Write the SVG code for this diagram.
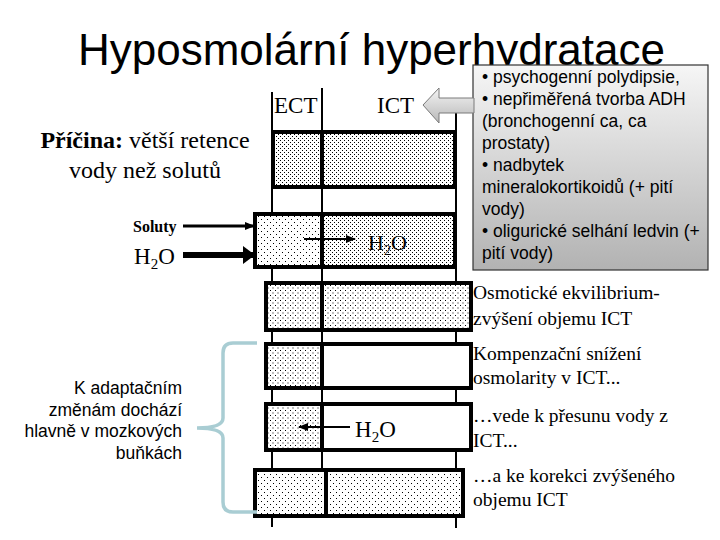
<svg xmlns="http://www.w3.org/2000/svg" width="720" height="540" viewBox="0 0 720 540">
<defs>
<style>
.sans{font-family:"Liberation Sans",Arial,sans-serif;fill:#000}
.serif{font-family:"Liberation Serif","Times New Roman",serif;fill:#000}
.box{stroke:#000;stroke-width:4}
.div{stroke:#000;stroke-width:4}
.vline{stroke:#000;stroke-width:2}
.thin{stroke:#000;stroke-width:2;fill:none}
</style>
<pattern id="pDense" width="4" height="4" patternUnits="userSpaceOnUse"><rect width="4" height="4" fill="#fff"/><rect x="0" y="0" width="1" height="1" fill="#000"/><rect x="2" y="2" width="1" height="1" fill="#000"/></pattern>
<pattern id="pMed" width="5" height="5" patternUnits="userSpaceOnUse"><rect width="5" height="5" fill="#fff"/><rect x="0" y="0" width="1" height="1" fill="#000"/><rect x="2.5" y="2.5" width="1" height="1" fill="#000"/></pattern>
<pattern id="pSparse" width="6" height="6" patternUnits="userSpaceOnUse"><rect width="6" height="6" fill="#fff"/><rect x="0" y="0" width="1" height="1" fill="#000"/><rect x="3" y="3" width="1" height="1" fill="#000"/></pattern>
<linearGradient id="gBox" x1="0" y1="0" x2="0" y2="1"><stop offset="0" stop-color="#f6f6f6"/><stop offset="1" stop-color="#b2b2b2"/></linearGradient>
<linearGradient id="gArrow" x1="0" y1="0" x2="0" y2="1"><stop offset="0" stop-color="#f4f4f4"/><stop offset="1" stop-color="#b8b8b8"/></linearGradient>
<marker id="mSmall" markerWidth="10" markerHeight="10" refX="9" refY="5" orient="auto" markerUnits="userSpaceOnUse"><path d="M0,1 L10,5 L0,9 Z" fill="#000"/></marker>
<marker id="mBig" markerWidth="12" markerHeight="18" refX="11" refY="9" orient="auto" markerUnits="userSpaceOnUse"><path d="M0,0 L12,9 L0,18 Z" fill="#000"/></marker>
</defs>
<rect width="720" height="540" fill="#fff"/>

<text class="sans" x="78" y="65" font-size="44">Hyposmolární hyperhydratace</text>

<g id="axes">
<line class="vline" x1="272" y1="92" x2="272" y2="527"/>
<line class="vline" x1="322" y1="88" x2="322" y2="470"/>
<line class="vline" x1="456" y1="113" x2="456" y2="528"/>
<text class="serif" x="274" y="113" font-size="23">ECT</text>
<text class="serif" x="377" y="113" font-size="23">ICT</text>
</g>

<g id="cause">
<text class="serif" x="145" y="148" font-size="24" text-anchor="middle"><tspan font-weight="bold">Příčina:</tspan> větší retence</text>
<text class="serif" x="145" y="178" font-size="24" text-anchor="middle">vody než solutů</text>
<text class="serif" x="133" y="232" font-size="16" font-weight="bold">Soluty</text>
<text class="serif" x="134" y="264" font-size="23">H<tspan font-size="15" dy="5">2</tspan><tspan dy="-5">O</tspan></text>
</g>

<g id="row1">
<rect class="box" x="273" y="132" width="182" height="55" fill="url(#pDense)"/>
<line class="div" x1="322" y1="132" x2="322" y2="187"/>
</g>

<g id="row2">
<rect class="box" x="255" y="214" width="200" height="53" fill="url(#pDense)"/>
<rect x="257" y="216" width="65" height="49" fill="url(#pSparse)"/>
<line class="div" x1="322" y1="214" x2="322" y2="267"/>
<text class="serif" x="368" y="250" font-size="22">H<tspan font-size="14" dy="5">2</tspan><tspan dy="-5">O</tspan></text>
</g>

<g id="row3">
<rect class="box" x="266" y="283" width="205" height="47" fill="url(#pMed)"/>
<line class="div" x1="322" y1="283" x2="322" y2="330"/>
</g>

<g id="row4">
<rect class="box" x="266" y="344" width="205" height="44" fill="#fff"/>
<rect x="268" y="346" width="54" height="40" fill="url(#pMed)"/>
<line class="div" x1="322" y1="344" x2="322" y2="388"/>
</g>

<g id="row5">
<rect class="box" x="266" y="404" width="205" height="46" fill="#fff"/>
<rect x="268" y="406" width="54" height="42" fill="url(#pMed)"/>
<line class="div" x1="322" y1="404" x2="322" y2="450"/>
<text class="serif" x="355" y="437" font-size="23">H<tspan font-size="15" dy="5">2</tspan><tspan dy="-5">O</tspan></text>
</g>

<g id="row6">
<rect class="box" x="255" y="470" width="208" height="46" fill="url(#pSparse)"/>
<line class="div" x1="326" y1="470" x2="326" y2="516"/>
</g>

<g id="causes-box">
<rect x="473" y="65" width="235" height="205" fill="url(#gBox)" stroke="#333" stroke-width="1.2"/>
<g class="sans" font-size="17.5">
<text x="482" y="83">• psychogenní polydipsie,</text>
<text x="482" y="105">• nepřiměřená tvorba ADH</text>
<text x="482" y="127">(bronchogenní ca, ca</text>
<text x="482" y="149">prostaty)</text>
<text x="482" y="171">• nadbytek</text>
<text x="482" y="193">mineralokortikoidů (+ pití</text>
<text x="482" y="215">vody)</text>
<text x="482" y="237">• oligurické selhání ledvin (+</text>
<text x="482" y="259">pití vody)</text>
</g>
</g>

<g id="right-notes" class="serif" font-size="19.5">
<text x="473" y="299">Osmotické ekvilibrium-</text>
<text x="473" y="325">zvýšení objemu ICT</text>
<text x="473" y="360">Kompenzační snížení</text>
<text x="473" y="384">osmolarity v ICT...</text>
<text x="473" y="422">…vede k přesunu vody z</text>
<text x="473" y="447">ICT...</text>
<text x="473" y="482">…a ke korekci zvýšeného</text>
<text x="473" y="506">objemu ICT</text>
</g>

<g id="brain-note" class="sans" font-size="17.5" text-anchor="end">
<text x="182" y="394">K adaptačním</text>
<text x="182" y="416">změnám dochází</text>
<text x="182" y="437">hlavně v mozkových</text>
<text x="182" y="459">buňkách</text>
</g>

<g id="connectors">
<path d="M423,105 L439,88 L439,98 L474,98 L474,113 L439,113 L439,123 Z" fill="url(#gArrow)" stroke="#7a7a7a" stroke-width="1"/>
<line x1="183" y1="226" x2="254" y2="226" stroke="#000" stroke-width="3" marker-end="url(#mSmall)"/>
<line x1="183" y1="255" x2="254" y2="255" stroke="#000" stroke-width="6" marker-end="url(#mBig)"/>
<line x1="304" y1="239" x2="355" y2="239" stroke="#000" stroke-width="2" marker-end="url(#mSmall)"/>
<line x1="350" y1="427" x2="299" y2="427" stroke="#000" stroke-width="2" marker-end="url(#mSmall)"/>
<path d="M257,343 L233,343 Q223,343 223,353 L223,418 Q223,428 197,428 Q223,428 223,438 L223,502 Q223,512 233,512 L257,512" fill="none" stroke="#a9cdd3" stroke-width="3.5"/>
</g>
</svg>
